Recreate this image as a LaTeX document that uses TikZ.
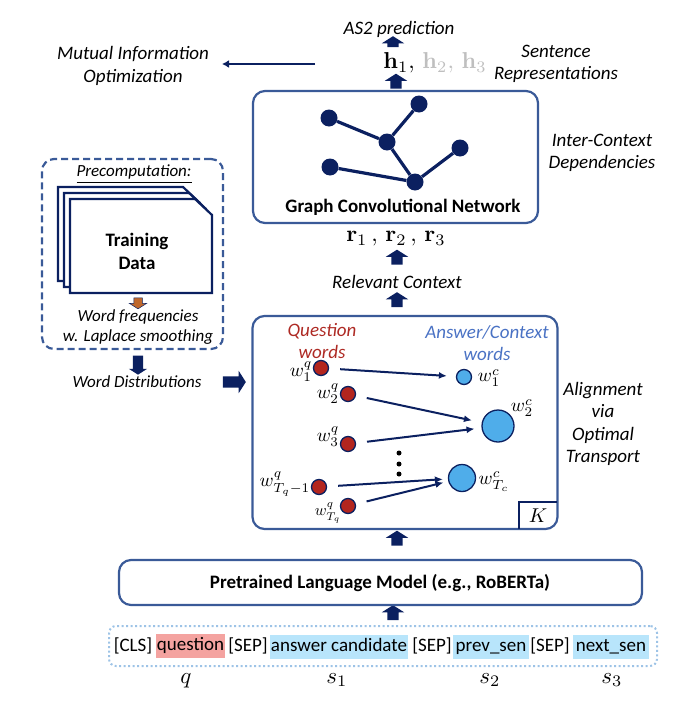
\documentclass[tikz,border=0pt]{standalone}
\usepackage[no-math]{fontspec}
\usepackage{amsmath}
\usepackage{amssymb}
\setmainfont{Carlito}
\usetikzlibrary{shapes.arrows,arrows.meta}
\definecolor{navyline}{HTML}{0B2060}
\definecolor{panelblue}{HTML}{3A5A98}
\definecolor{dotblue}{HTML}{9DC3E6}
\definecolor{wordred}{HTML}{B3251E}
\definecolor{headred}{HTML}{AE2A24}
\definecolor{headblue}{HTML}{4A72C4}
\definecolor{wordblue}{HTML}{4FADEA}
\definecolor{tokred}{HTML}{F4A3A0}
\definecolor{tokblue}{HTML}{B8E5FB}
\definecolor{orangearrow}{HTML}{C0682C}
\newcommand{\wlabel}[1]{\scalebox{1.9}{$#1$}}
\newcommand{\biglabel}[1]{\scalebox{2.3}{$#1$}}
\newcommand{\veclabel}[1]{\scalebox{2.3}{$#1$}}

\begin{document}
\begin{tikzpicture}[
  x = 1pt, y = -1pt,
  panelbox/.style = {draw = panelblue, line width = 2.2pt, rounded corners = 12pt, inner sep = 0pt},
  blockarrow/.style = {shape = single arrow, fill = navyline, inner xsep = 0pt, inner ysep = 5.5pt,
    minimum height = 15pt, single arrow head extend = 5.5pt, single arrow tip angle = 115,
    single arrow head indent = 0pt},
  sidetext/.style = {font = \fontsize{19}{22.5}\selectfont\itshape, align = center, inner sep = 0pt},
  smalltext/.style = {font = \fontsize{17}{20}\selectfont\itshape, align = center, inner sep = 0pt},
  boldtext/.style = {font = \fontsize{19}{23}\selectfont\bfseries, align = center, inner sep = 0pt},
  tokentext/.style = {font = \fontsize{19}{22}\selectfont, inner sep = 0pt, text height = 14pt, text depth = 5pt},
  tokenred/.style = {tokentext, fill = tokred, minimum height = 24pt},
  tokenblue/.style = {tokentext, fill = tokblue, minimum height = 24pt},
  graphnode/.style = {circle, fill = navyline, minimum size = 17pt, inner sep = 0pt},
  graphedge/.style = {draw = navyline, line width = 3.2pt},
  qword/.style = {circle, draw = navyline, fill = wordred, line width = 1.3pt, minimum size = 15pt, inner sep = 0pt},
  cword/.style = {circle, draw = navyline, fill = wordblue, line width = 1.3pt, inner sep = 0pt},
  wordlink/.style = {draw = navyline, line width = 2pt, -{Latex[length = 8pt, width = 7pt]}, shorten <= 11pt},
  mathlabel/.style = {inner sep = 0pt},
  pagesheet/.style = {draw = navyline, fill = white, line width = 2.2pt, line join = miter},
  ]
  \useasboundingbox (0,0) rectangle (688,704);

  \node[sidetext] (mutualinfo) at (133,66) {Mutual Information\\Optimization};
  \node[sidetext] (as2pred) at (399,29) {AS2 prediction};
  \node[sidetext] (sentrep) at (556,64) {Sentence\\Representations};
  \node[sidetext] (interctx) at (602,153) {Inter-Context\\Dependencies};
  \node[sidetext] (relctx) at (397,282) {Relevant Context};
  \node[sidetext] (align) at (603,424) {Alignment\\via\\Optimal\\Transport};

  \node[mathlabel] (hvec) at (435,63)
    {\veclabel{\mathbf{h}_1,\,\color{black!25}\mathbf{h}_2,\,\mathbf{h}_3}};
  \node[mathlabel] (rvec) at (396,239)
    {\veclabel{\mathbf{r}_1\,,\,\mathbf{r}_2\,,\,\mathbf{r}_3}};

  \coordinate (mistart) at (315,64);
  \coordinate (miend) at (222,64);
  \draw[draw = navyline, line width = 2pt, -{Latex[length = 7pt, width = 8pt]}] (mistart) -- (miend);

  \node[blockarrow, rotate = 90, minimum height = 11pt] (arrowpred) at (393,43.5) {};
  \node[blockarrow, rotate = 90] (arrowhvec) at (396,83) {};
  \node[blockarrow, rotate = 90] (arrowrvec) at (397,259) {};
  \node[blockarrow, rotate = 90] (arrowrel) at (397,301.5) {};
  \node[blockarrow, rotate = 90] (arrowalign) at (397,540) {};
  \node[blockarrow, rotate = 90] (arrowinput) at (393,614.5) {};

  \node[panelbox, minimum width = 285pt, minimum height = 132pt] (gcnbox) at (395.5,157) {};
  \node[boldtext] (gcntext) at (403,207) {Graph Convolutional Network};
  \node[graphnode] (ga) at (329,118) {};
  \node[graphnode] (gb) at (419,104) {};
  \node[graphnode] (gc) at (387,142) {};
  \node[graphnode] (gd) at (460,148) {};
  \node[graphnode] (ge) at (330,167) {};
  \node[graphnode] (gf) at (415,182) {};
  \draw[graphedge] (ga) -- (gc);
  \draw[graphedge] (gb) -- (gc);
  \draw[graphedge] (gc) -- (gf);
  \draw[graphedge] (gd) -- (gf);
  \draw[graphedge] (ge) -- (gf);

  \node[panelbox, dashed, dash pattern = on 7pt off 4pt, minimum width = 181pt, minimum height = 190pt] (precomp) at (132.5,254) {};
  \node[smalltext] (precomptitle) at (134,174) {\underline{Precomputation:}};
  \foreach \off in {0,6,12}
    \draw[pagesheet, shift = {(\off,\off)}] (58,187) -- (183,187) -- (200,203) -- (200,281) -- (58,281) -- cycle;
  \node[boldtext] (trainingdata) at (137,251) {Training\\Data};
  \node[blockarrow, rotate = -90, fill = orangearrow, draw = navyline, line width = .5pt,
    minimum height = 11pt, inner ysep = 4pt, single arrow head extend = 4.5pt] (arroworange) at (138,302) {};
  \node[smalltext] (wordfreq) at (138,327) {Word frequencies\\w. Laplace smoothing};
  \node[blockarrow, rotate = -90, minimum height = 19pt, inner ysep = 5pt, single arrow head extend = 4pt] (arrowprecomp) at (138,363.5) {};
  \node[smalltext] (worddist) at (137,382) {Word Distributions};
  \node[blockarrow, minimum height = 23pt] (arrowdist) at (232.5,382) {};

  \node[panelbox, minimum width = 305pt, minimum height = 213pt] (otbox) at (405,422.5) {};
  \node[sidetext, text = headred] (qhead) at (322,341) {Question\\words};
  \node[sidetext, text = headblue] (chead) at (487,343) {Answer/Context\\words};

  \node[qword] (q1) at (321,368) {};
  \node[qword] (q2) at (348,394) {};
  \node[qword] (q3) at (348,444) {};
  \node[qword] (q4) at (319,487) {};
  \node[qword] (q5) at (348,506) {};
  \node[cword, minimum size = 15pt] (c1) at (464,377) {};
  \node[cword, minimum size = 32pt] (c2) at (498,426) {};
  \node[cword, minimum size = 27pt] (c3) at (462,478) {};

  \node[mathlabel] (lq1) at (301,372) {\wlabel{w_1^q}};
  \node[mathlabel] (lq2) at (328,394) {\wlabel{w_2^q}};
  \node[mathlabel] (lq3) at (328,437) {\wlabel{w_3^q}};
  \node[mathlabel] (lq4) at (285,484) {\wlabel{w_{T_q-1}^q}};
  \node[mathlabel] (lq5) at (328,513) {\scalebox{1.6}{$w_{T_q}^q$}};
  \node[mathlabel] (lc1) at (489,378) {\wlabel{w_1^c}};
  \node[mathlabel] (lc2) at (522,408) {\wlabel{w_2^c}};
  \node[mathlabel] (lc3) at (494,482) {\wlabel{w_{T_c}^c}};

  \draw[wordlink, shorten >= 9pt] (q1) -- (c1);
  \draw[wordlink, shorten >= 10pt] (q2) -- (c2);
  \draw[wordlink, shorten >= 7pt] (q3) -- (c2);
  \draw[wordlink, shorten >= 5pt] (q4) -- (c3);
  \draw[wordlink, shorten >= 5pt] (q5) -- (c3);

  \foreach \dotname/\doty in {dota/453,dotb/464,dotc/474}
    \node[circle, fill = black, minimum size = 5pt, inner sep = 0pt] (\dotname) at (399,\doty) {};

  \node[inner sep = 0pt, minimum width = 38pt, minimum height = 27pt] (kbox) at (538,515.5) {\scalebox{2}{$K$}};
  \draw[draw = navyline, line width = 1.8pt] (kbox.south west) -- (kbox.north west) -- (kbox.north east);

  \node[panelbox, minimum width = 523pt, minimum height = 45pt] (lmbox) at (380.5,582.5) {};
  \node[boldtext] (lmtext) at (380,583) {Pretrained Language Model (e.g., RoBERTa)};

  \node[panelbox, draw = dotblue, line width = 2pt, dash pattern = on 2pt off 2.5pt, rounded corners = 7pt,
    minimum width = 548pt, minimum height = 40pt] (inputbox) at (383,646) {};
  \node[tokentext] (tokcls) at (133,647) {[CLS]};
  \node[tokenred, minimum width = 69pt] (tokq) at (190.5,646) {question};
  \node[tokentext] (toksepa) at (248,647) {[SEP]};
  \node[tokenblue, minimum width = 138pt] (toka) at (339,647) {answer candidate};
  \node[tokentext] (toksepb) at (432,647) {[SEP]};
  \node[tokenblue, minimum width = 76pt] (tokp) at (491,647) {prev\_sen};
  \node[tokentext] (toksepc) at (550,647) {[SEP]};
  \node[tokenblue, minimum width = 76pt] (tokn) at (611,647) {next\_sen};

  \node[mathlabel] (lq) at (186,681) {\biglabel{q}};
  \node[mathlabel] (ls1) at (337,680) {\biglabel{s_1}};
  \node[mathlabel] (ls2) at (490,680) {\biglabel{s_2}};
  \node[mathlabel] (ls3) at (612,680) {\biglabel{s_3}};
\end{tikzpicture}
\end{document}
